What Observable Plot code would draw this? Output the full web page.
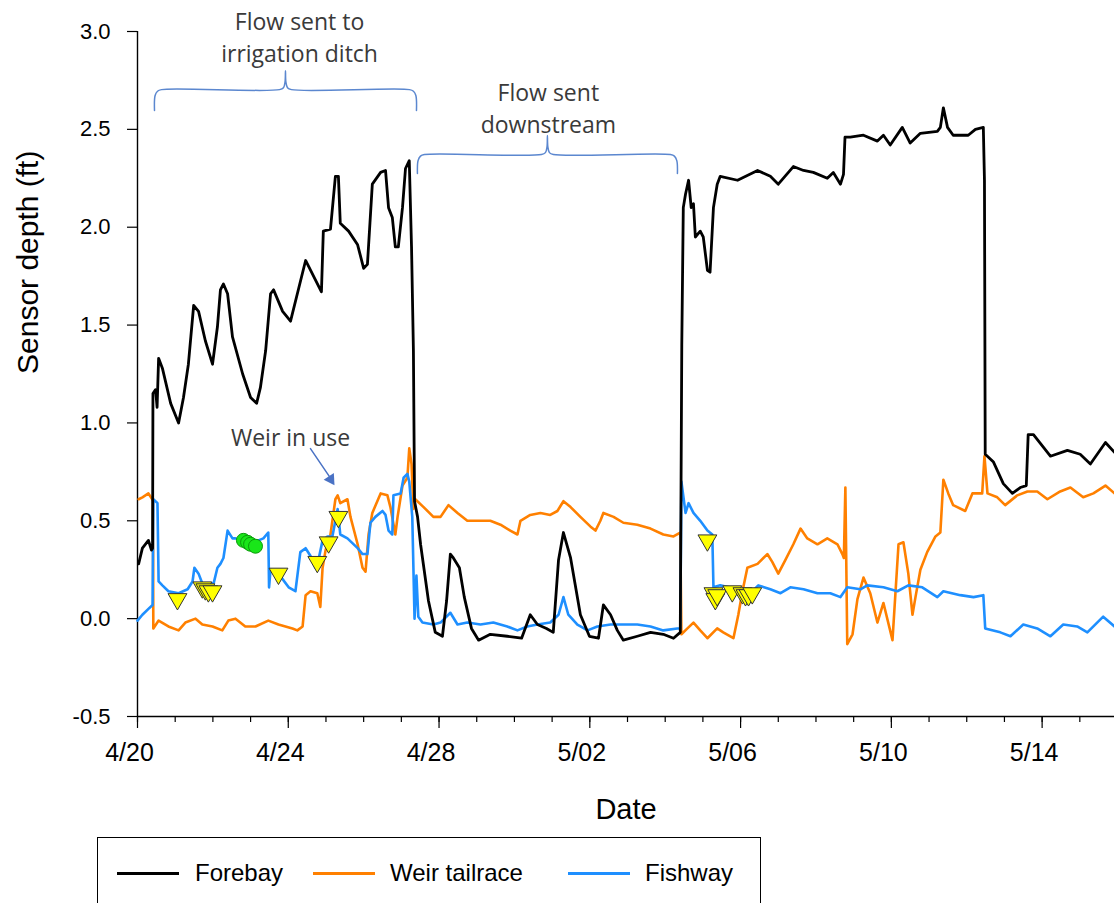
<!DOCTYPE html>
<html>
<head>
<meta charset="utf-8">
<script src="https://cdn.jsdelivr.net/npm/d3@7"></script>
<script src="https://cdn.jsdelivr.net/npm/@observablehq/plot@0.6"></script>
<style>
  html, body { margin: 0; padding: 0; background: #fff; width: 1114px; height: 903px; overflow: hidden; }
  #wrap { position: relative; width: 1114px; height: 903px; }
  #legend { position: absolute; left: 97px; top: 837px; width: 664px; height: 90px; border: 1px solid #000; box-sizing: border-box; font-family: "Liberation Sans", Arial, sans-serif; font-size: 24px; color: #000; }
  #legend .sw { position: absolute; top: 34px; width: 62px; height: 3px; }
  #legend .lb { position: absolute; top: 21px; line-height: 28px; }
</style>
</head>
<body>
<div id="wrap"></div>
<script>
// ---- data (x: days since 4/20, y: sensor depth in ft) ----
const startDate = Date.UTC(2014, 3, 20);
const seriesNames = ["Forebay", "Weir tailrace", "Fishway"];
const seriesColors = ["#000000", "#ff8000", "#1e8fff"];

const forebay = [
 [0.03,0.28],[0.13,0.36],[0.29,0.40],[0.37,0.35],[0.40,0.36],[0.41,1.15],[0.48,1.17],[0.52,1.08],[0.56,1.33],[0.66,1.28],
 [0.88,1.10],[1.09,1.00],[1.22,1.13],[1.35,1.30],[1.49,1.60],[1.62,1.57],[1.80,1.42],[1.99,1.30],[2.12,1.49],[2.20,1.68],
 [2.28,1.71],[2.39,1.66],[2.52,1.44],[2.79,1.25],[3.00,1.13],[3.16,1.10],[3.26,1.18],[3.40,1.37],[3.53,1.66],[3.61,1.68],
 [3.85,1.57],[4.06,1.52],[4.46,1.83],[4.88,1.67],[4.93,1.98],[5.12,1.99],[5.25,2.26],[5.33,2.26],[5.38,2.02],[5.60,1.98],
 [5.84,1.91],[6.00,1.79],[6.10,1.81],[6.23,2.22],[6.45,2.28],[6.58,2.29],[6.66,2.10],[6.76,2.05],[6.84,1.90],[6.92,1.90],
 [7.03,2.10],[7.11,2.30],[7.21,2.34],[7.27,1.90],[7.32,1.37],[7.35,0.60],[7.43,0.52],[7.51,0.38],[7.72,0.09],[7.90,-0.07],
 [8.09,-0.09],[8.20,0.09],[8.30,0.33],[8.38,0.31],[8.54,0.26],[8.67,0.11],[8.86,-0.05],[9.05,-0.11],[9.36,-0.08],[9.81,-0.09],
 [10.19,-0.10],[10.42,0.02],[10.61,-0.03],[10.85,-0.05],[11.03,-0.07],[11.17,0.30],[11.30,0.44],[11.49,0.31],[11.75,0.02],[11.99,-0.09],
 [12.23,-0.10],[12.36,0.07],[12.55,0.02],[12.73,-0.06],[12.89,-0.11],[13.26,-0.09],[13.61,-0.07],[13.95,-0.08],[14.22,-0.10],[14.40,-0.07],
 [14.44,1.40],[14.48,2.10],[14.54,2.17],[14.62,2.24],[14.69,2.10],[14.75,2.12],[14.80,1.95],[14.93,1.98],[15.01,1.95],[15.12,1.78],
 [15.19,1.77],[15.28,2.10],[15.38,2.22],[15.46,2.26],[15.92,2.24],[16.45,2.29],[16.79,2.26],[17.00,2.22],[17.40,2.31],[17.67,2.29],
 [17.93,2.28],[18.30,2.25],[18.46,2.28],[18.65,2.22],[18.73,2.27],[18.77,2.46],[18.91,2.46],[19.26,2.47],[19.63,2.44],[19.79,2.47],
 [19.97,2.42],[20.29,2.51],[20.50,2.43],[20.77,2.48],[21.22,2.49],[21.30,2.51],[21.38,2.61],[21.49,2.51],[21.64,2.47],[22.04,2.47],
 [22.23,2.50],[22.44,2.51],[22.47,2.24],[22.49,0.84],[22.71,0.80],[22.97,0.69],[23.21,0.64],[23.42,0.67],[23.58,0.68],[23.63,0.94],
 [23.77,0.94],[24.22,0.83],[24.67,0.86],[25.01,0.84],[25.28,0.79],[25.68,0.90],[25.92,0.85]
];

const weirTailrace = [
 [0.03,0.61],[0.13,0.62],[0.29,0.64],[0.39,0.61],[0.41,0.60],[0.42,-0.05],[0.56,-0.01],[0.82,-0.04],[1.09,-0.06],[1.27,-0.02],
 [1.54,0.00],[1.72,-0.03],[1.99,-0.04],[2.25,-0.06],[2.41,-0.01],[2.60,0.00],[2.86,-0.04],[3.13,-0.04],[3.47,-0.01],[3.74,-0.03],
 [4.11,-0.05],[4.24,-0.06],[4.38,-0.04],[4.46,0.12],[4.59,0.14],[4.77,0.13],[4.85,0.06],[4.91,0.26],[4.99,0.35],[5.12,0.43],
 [5.25,0.61],[5.31,0.63],[5.38,0.59],[5.57,0.61],[5.65,0.52],[5.84,0.38],[5.97,0.26],[6.05,0.24],[6.13,0.43],[6.23,0.54],
 [6.45,0.64],[6.63,0.63],[6.71,0.57],[6.84,0.43],[6.90,0.52],[7.03,0.68],[7.16,0.72],[7.21,0.87],[7.27,0.79],[7.32,0.56],
 [7.37,0.61],[7.59,0.57],[7.85,0.52],[8.04,0.52],[8.25,0.58],[8.49,0.54],[8.75,0.50],[9.02,0.50],[9.36,0.50],[9.63,0.48],
 [9.89,0.45],[10.08,0.43],[10.16,0.50],[10.42,0.53],[10.69,0.54],[10.95,0.53],[11.14,0.55],[11.30,0.60],[11.49,0.57],[11.75,0.52],
 [12.02,0.47],[12.15,0.45],[12.28,0.50],[12.36,0.54],[12.63,0.52],[12.89,0.49],[13.26,0.48],[13.61,0.46],[13.95,0.43],[14.22,0.42],
 [14.40,0.44],[14.43,-0.08],[14.59,-0.05],[14.75,-0.02],[14.93,-0.06],[15.12,-0.10],[15.38,-0.05],[15.54,-0.07],[15.81,-0.10],[15.94,0.02],
 [16.05,0.14],[16.18,0.26],[16.45,0.28],[16.71,0.33],[16.84,0.29],[17.00,0.23],[17.19,0.30],[17.40,0.38],[17.59,0.46],[17.77,0.41],
 [18.04,0.38],[18.30,0.41],[18.57,0.38],[18.70,0.33],[18.74,0.31],[18.78,0.67],[18.83,-0.13],[18.97,-0.08],[19.10,0.10],[19.26,0.21],
 [19.44,0.13],[19.63,-0.02],[19.79,0.08],[20.03,-0.11],[20.19,0.38],[20.32,0.39],[20.45,0.23],[20.56,0.02],[20.64,0.11],[20.77,0.25],
 [20.95,0.34],[21.17,0.42],[21.30,0.44],[21.38,0.71],[21.51,0.64],[21.64,0.58],[21.96,0.55],[22.15,0.64],[22.41,0.64],[22.47,0.83],
 [22.55,0.64],[22.81,0.62],[23.02,0.58],[23.34,0.63],[23.61,0.65],[23.87,0.65],[24.14,0.61],[24.48,0.65],[24.75,0.67],[25.09,0.62],
 [25.36,0.64],[25.68,0.68],[25.92,0.64]
];

const fishway = [
 [0.00,-0.01],[0.13,0.02],[0.29,0.05],[0.40,0.07],[0.42,0.61],[0.53,0.59],[0.56,0.19],[0.66,0.17],[0.82,0.14],[1.09,0.13],
 [1.33,0.15],[1.46,0.19],[1.51,0.26],[1.62,0.23],[1.72,0.18],[2.02,0.18],[2.12,0.26],[2.20,0.28],[2.28,0.31],[2.39,0.45],
 [2.52,0.41],[2.60,0.41],[2.86,0.39],[3.21,0.40],[3.34,0.41],[3.47,0.44],[3.49,0.16],[3.53,0.25],[3.74,0.23],[4.01,0.16],
 [4.19,0.14],[4.32,0.34],[4.46,0.36],[4.59,0.32],[4.72,0.26],[4.80,0.30],[4.91,0.40],[5.04,0.42],[5.17,0.42],[5.31,0.56],
 [5.38,0.43],[5.57,0.41],[5.84,0.36],[5.97,0.33],[6.10,0.33],[6.18,0.49],[6.31,0.52],[6.50,0.55],[6.58,0.53],[6.66,0.45],
 [6.76,0.43],[6.79,0.63],[6.98,0.64],[7.06,0.72],[7.16,0.74],[7.21,0.70],[7.29,0.52],[7.35,0.00],[7.40,0.22],[7.45,0.01],
 [7.56,-0.02],[7.85,-0.03],[8.04,-0.02],[8.30,0.03],[8.49,-0.03],[8.75,-0.02],[9.10,-0.03],[9.44,-0.02],[9.81,-0.04],[10.08,-0.06],
 [10.34,-0.04],[10.61,-0.03],[10.95,-0.02],[11.17,0.02],[11.30,0.11],[11.43,0.02],[11.67,-0.03],[11.94,-0.06],[12.20,-0.04],[12.55,-0.03],
 [12.89,-0.03],[13.26,-0.03],[13.61,-0.04],[13.95,-0.06],[14.32,-0.05],[14.40,-0.05],[14.43,0.70],[14.54,0.54],[14.62,0.59],[14.75,0.54],
 [14.93,0.50],[15.12,0.45],[15.25,0.43],[15.28,0.16],[15.46,0.17],[15.92,0.15],[16.26,0.13],[16.47,0.17],[16.79,0.15],[17.06,0.13],
 [17.32,0.16],[17.67,0.15],[18.04,0.13],[18.38,0.13],[18.65,0.11],[18.83,0.16],[19.18,0.15],[19.36,0.17],[19.79,0.16],[20.16,0.14],
 [20.45,0.17],[20.82,0.16],[21.22,0.11],[21.38,0.14],[21.83,0.12],[22.18,0.11],[22.44,0.12],[22.49,-0.05],[22.89,-0.07],[23.16,-0.09],
 [23.50,-0.03],[23.87,-0.05],[24.22,-0.09],[24.56,-0.03],[24.93,-0.04],[25.20,-0.07],[25.46,-0.02],[25.62,0.01],[25.92,-0.04]
];

// yellow inverted triangles and green circles (observations)
const triangleObs = [
 [1.06,0.10],[1.72,0.16],[1.80,0.15],[1.88,0.14],[1.99,0.14],[3.74,0.23],[4.77,0.29],[5.07,0.39],[5.33,0.52],
 [15.12,0.40],[15.28,0.13],[15.33,0.10],[15.38,0.12],[15.78,0.14],[16.05,0.13],[16.13,0.12],[16.21,0.12],[16.31,0.13]
];
const circleObs = [[2.81,0.40],[2.92,0.39],[3.00,0.38],[3.13,0.37]];

// axis ticks
const xDomainDays = [0, 25.92];
const majorTickDays = [0, 4, 8, 12, 16, 20, 24];
const minorTickDays = d3.range(0, 26);
const yTicks = [-0.5, 0, 0.5, 1.0, 1.5, 2.0, 2.5, 3.0];

// annotations (data space)
const bracketIrrigation = [[0.451,2.596],[0.467,2.673],[0.531,2.695],[0.637,2.703],[3.767,2.703],[3.873,2.713],[3.915,2.744],[3.926,2.800],
 [3.936,2.744],[3.979,2.713],[4.085,2.703],[7.215,2.703],[7.321,2.695],[7.385,2.673],[7.401,2.596]];
const bracketDownstream = [[7.427,2.274],[7.443,2.340],[7.507,2.363],[7.613,2.371],[10.716,2.371],[10.822,2.381],[10.865,2.412],[10.875,2.468],
 [10.886,2.412],[10.928,2.381],[11.034,2.371],[14.138,2.371],[14.244,2.363],[14.308,2.340],[14.324,2.274]];
const noteTexts = [
 {day: 4.30, depth: 2.979, text: "Flow sent to\nirrigation ditch"},
 {day: 10.90, depth: 2.615, text: "Flow sent\ndownstream"},
 {day: 4.06, depth: 0.935, text: "Weir in use"}
];
const arrowLine = [[4.589,0.869],[5.093,0.726]];
const arrowHead = [[5.125,0.712]];

// ---- build ----
const toDate = d => new Date(startDate + d * 864e5);
const fmt = d3.utcFormat("%-m/%d");
const triDown = {
  draw(ctx, size) {
    const s3 = Math.sqrt(3);
    const y = -Math.sqrt(size / (s3 * 3));
    ctx.moveTo(0, -2 * y);
    ctx.lineTo(-s3 * y, y);
    ctx.lineTo(s3 * y, y);
    ctx.closePath();
  }
};
function rotatedTri(deg) {
  const a = deg * Math.PI / 180, c = Math.cos(a), s = Math.sin(a);
  return {
    draw(ctx, size) {
      const s3 = Math.sqrt(3);
      const y = -Math.sqrt(size / (s3 * 3));
      const pts = [[0, 2 * y], [-s3 * y, -y], [s3 * y, -y]].map(([px, py]) => [px * c - py * s, px * s + py * c]);
      ctx.moveTo(pts[0][0], pts[0][1]);
      ctx.lineTo(pts[1][0], pts[1][1]);
      ctx.lineTo(pts[2][0], pts[2][1]);
      ctx.closePath();
    }
  };
}
const allSeries = [forebay, weirTailrace, fishway];
const seriesWidths = [2.8, 2.6, 2.6];
const lineMarks = [1, 2, 0].map(i =>
  Plot.line(allSeries[i], {x: d => toDate(d[0]), y: d => d[1], stroke: seriesColors[i], strokeWidth: seriesWidths[i], strokeLinejoin: "round"})
);
const bracketColor = "#5b87cf";

const chart = Plot.plot({
  width: 1114,
  height: 836,
  marginLeft: 137,
  marginRight: 0,
  marginTop: 31,
  marginBottom: 120,
  style: {background: "white", color: "black", fontFamily: "'Liberation Sans', Arial, sans-serif", overflow: "visible"},
  x: {type: "utc", domain: xDomainDays.map(toDate), label: null},
  y: {domain: [-0.5, 3.0], label: null},
  marks: [
    Plot.axisY(yTicks, {tickSize: 10, tickPadding: 17, fontSize: 22, tickFormat: d => d.toFixed(1), stroke: "black", strokeWidth: 1.2, label: null}),
    Plot.axisX(majorTickDays.map(toDate), {tickSize: 12, tickFormat: () => "", stroke: "black", strokeWidth: 1.2, label: null}),
    Plot.axisX(minorTickDays.map(toDate), {tickSize: 6, tickFormat: () => "", stroke: "black", strokeWidth: 1.2, label: null}),
    Plot.text(majorTickDays.map(toDate), {x: d => d, text: d => fmt(d), frameAnchor: "bottom", dy: 44, dx: -8, fontSize: 25, fill: "black"}),
    Plot.ruleX([toDate(xDomainDays[0])], {stroke: "black", strokeWidth: 1.4}),
    Plot.ruleY([-0.5], {stroke: "black", strokeWidth: 1.4}),
    Plot.text(["Sensor depth (ft)"], {frameAnchor: "left", rotate: -90, dx: -109, fontSize: 30, fill: "black"}),
    Plot.text(["Date"], {frameAnchor: "bottom", dy: 102, fontSize: 29, fill: "black"}),
    ...lineMarks,
    Plot.dot(circleObs, {x: d => toDate(d[0]), y: d => d[1], r: 7, fill: "#19e619", stroke: "#0a9a0a", strokeWidth: 1}),
    Plot.dot(triangleObs, {x: d => toDate(d[0]), y: d => d[1], r: 7, symbol: triDown, fill: "#ffff00", stroke: "#333", strokeWidth: 1}),
    Plot.line(bracketIrrigation, {x: d => toDate(d[0]), y: d => d[1], curve: "catmull-rom", stroke: bracketColor, strokeWidth: 1.5}),
    Plot.line(bracketDownstream, {x: d => toDate(d[0]), y: d => d[1], curve: "catmull-rom", stroke: bracketColor, strokeWidth: 1.5}),
    Plot.text(noteTexts, {x: d => toDate(d.day), y: "depth", text: "text", fontSize: 23, lineHeight: 1.4, fill: "#3a3a3a", fontFamily: "'Open Sans', sans-serif"}),
    Plot.line(arrowLine, {x: d => toDate(d[0]), y: d => d[1], stroke: "#4a72c4", strokeWidth: 1.5}),
    Plot.dot(arrowHead, {x: d => toDate(d[0]), y: d => d[1], r: 4.5, symbol: rotatedTri(147), fill: "#4a72c4", stroke: "none"})
  ]
});
const wrap = document.getElementById("wrap");
wrap.appendChild(chart);

// legend (HTML, below the SVG)
const legend = document.createElement("div");
legend.id = "legend";
const swLeft = [19, 215, 470];
const lbLeft = [97, 292, 547];
seriesNames.forEach((name, i) => {
  const sw = document.createElement("div");
  sw.className = "sw";
  sw.style.left = swLeft[i] + "px";
  sw.style.background = seriesColors[i];
  legend.appendChild(sw);
  const lb = document.createElement("div");
  lb.className = "lb";
  lb.style.left = lbLeft[i] + "px";
  lb.textContent = name;
  legend.appendChild(lb);
});
wrap.appendChild(legend);
</script>
</body>
</html>
